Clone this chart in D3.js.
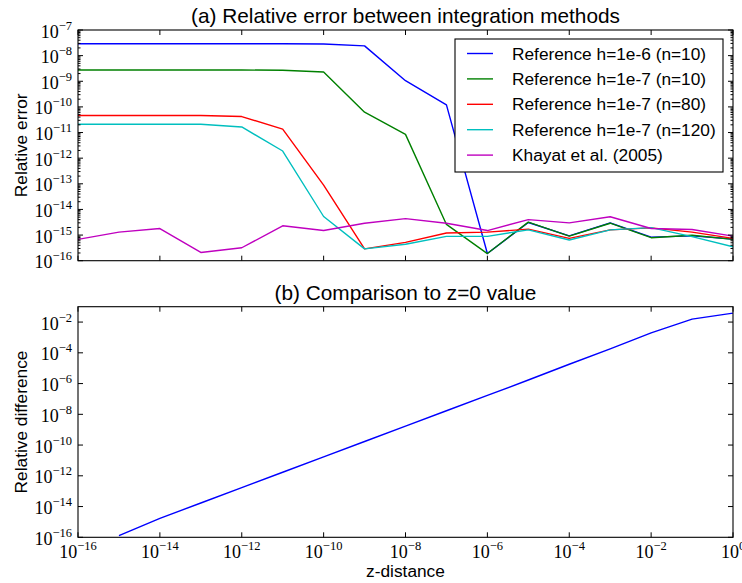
<!DOCTYPE html>
<html><head><meta charset="utf-8">
<script src="https://cdn.jsdelivr.net/npm/d3@7"></script>
<style>body{margin:0;background:#fff}svg{display:block}</style>
</head><body>
<svg id="c" width="742" height="583"></svg>
<script>
// ---- data ----
const zExp = [-16,-15,-14,-13,-12,-11,-10,-9,-8,-7,-6,-5,-4,-3,-2,-1,0];
const seriesNames = ["Reference h=1e-6 (n=10)","Reference h=1e-7 (n=10)","Reference h=1e-7 (n=80)","Reference h=1e-7 (n=120)","Khayat et al. (2005)"];
const seriesColors = ["#0000ff","#008000","#ff0000","#00bfbf","#bf00bf"];
const blueVals = [2.9e-8,2.9e-8,2.9e-8,2.9e-8,2.9e-8,2.9e-8,2.85e-8,2.4e-8,1.05e-9,1.2e-10,1.9e-16,3.1e-15,9.3e-16,3.0e-15,8.3e-16,9.3e-16,7.0e-16];
const greenVals = [2.75e-9,2.75e-9,2.75e-9,2.75e-9,2.75e-9,2.7e-9,2.3e-9,6.2e-11,8.5e-12,2.6e-15,1.9e-16,3.2e-15,9.1e-16,2.9e-15,7.9e-16,9.8e-16,6.8e-16];
const redVals = [4.6e-11,4.6e-11,4.6e-11,4.6e-11,4.2e-11,1.35e-11,8.9e-14,2.9e-16,5.2e-16,1.2e-15,1.3e-15,1.7e-15,7.4e-16,1.6e-15,1.9e-15,1.3e-15,7.4e-16];
const cyanVals = [2.1e-11,2.1e-11,2.1e-11,2.1e-11,1.65e-11,1.9e-12,5.3e-15,2.9e-16,4.4e-16,8.9e-16,8.9e-16,1.6e-15,6.4e-16,1.6e-15,1.95e-15,8.7e-16,3.5e-16];
const magentaVals = [6.8e-16,1.3e-15,1.8e-15,2.1e-16,3.2e-16,2.3e-15,1.5e-15,2.9e-15,4.4e-15,2.9e-15,1.5e-15,4.0e-15,3.0e-15,5.2e-15,1.8e-15,1.65e-15,9.1e-16];
const diffExp = [-15,-14,-13,-12,-11,-10,-9,-8,-7,-6,-5,-4,-3,-2,-1,0];
const diffVals = [1.3e-16,1.7e-15,1.7e-14,1.7e-13,1.7e-12,1.7e-11,1.7e-10,1.7e-9,1.7e-8,1.7e-7,1.7e-6,1.8e-5,1.8e-4,2.0e-3,1.55e-2,3.8e-2];
const topYTicks = [-16,-15,-14,-13,-12,-11,-10,-9,-8,-7];
const botYTicks = [-16,-14,-12,-10,-8,-6,-4,-2];
const xTicks = [-16,-14,-12,-10,-8,-6,-4,-2,0];

const svg = d3.select("#c");
const L = 78, R = 733;
const top1 = 30, bot1 = 260.7, top2 = 306.7, bot2 = 537.3;
const x = d3.scaleLog().domain([1e-16,1]).range([L,R]);
const y1 = d3.scaleLog().domain([1e-16,1e-7]).range([bot1,top1]);
const y2 = d3.scaleLog().domain([1e-16,1e-1]).range([bot2,top2]);
const serif = "'Liberation Serif', 'DejaVu Serif', serif";
const sans = "'Liberation Sans', Arial, sans-serif";

const defs = svg.append("defs");
defs.append("clipPath").attr("id","cp1").append("rect").attr("x",L).attr("y",top1).attr("width",R-L).attr("height",bot1-top1);
defs.append("clipPath").attr("id","cp2").append("rect").attr("x",L).attr("y",top2).attr("width",R-L).attr("height",bot2-top2);

function pow10Label(g, xpos, ypos, e, anchor){
  const t = g.append("text").attr("x",xpos).attr("y",ypos).attr("text-anchor",anchor)
    .attr("font-family",serif).attr("fill","#000");
  t.append("tspan").attr("font-size","18px").text("10");
  t.append("tspan").attr("font-size","12.5px").attr("dy",-8).text(e===0?"0":"\u2212"+(-e));
}

function ticksAndFrame(yScale, top, bot, yMajors, minor, showX){
  const g = svg.append("g");
  xTicks.forEach(e=>{
    const xv = x(Math.pow(10,e));
    g.append("line").attr("x1",xv).attr("x2",xv).attr("y1",bot).attr("y2",bot-5).attr("stroke","#000");
    g.append("line").attr("x1",xv).attr("x2",xv).attr("y1",top).attr("y2",top+5).attr("stroke","#000");
    if(showX) pow10Label(g, xv, bot+21, e, "middle");
  });
  yMajors.forEach(e=>{
    const yv = yScale(Math.pow(10,e));
    g.append("line").attr("x1",L).attr("x2",L+5).attr("y1",yv).attr("y2",yv).attr("stroke","#000");
    g.append("line").attr("x1",R).attr("x2",R-5).attr("y1",yv).attr("y2",yv).attr("stroke","#000");
    pow10Label(g, L-6, yv+7.5, e, "end");
    if(minor && e < -7){
      for(let k=2;k<10;k++){
        const ym = yScale(k*Math.pow(10,e));
        g.append("line").attr("x1",L).attr("x2",L+2.5).attr("y1",ym).attr("y2",ym).attr("stroke","#000");
        g.append("line").attr("x1",R).attr("x2",R-2.5).attr("y1",ym).attr("y2",ym).attr("stroke","#000");
      }
    }
  });
  g.append("rect").attr("x",L).attr("y",top).attr("width",R-L).attr("height",bot-top)
    .attr("fill","none").attr("stroke","#000").attr("stroke-width",1.1);
}

// top panel lines
const allSeries = [blueVals,greenVals,redVals,cyanVals,magentaVals];
const line1 = d3.line().x((d,i)=>x(Math.pow(10,zExp[i]))).y(d=>y1(d));
const gl1 = svg.append("g").attr("clip-path","url(#cp1)");
allSeries.forEach((s,i)=>{
  gl1.append("path").datum(s).attr("d",line1).attr("fill","none")
    .attr("stroke",seriesColors[i]).attr("stroke-width",1.4).attr("stroke-linejoin","round");
});
ticksAndFrame(y1, top1, bot1, topYTicks, true, false);

// legend
const lg = svg.append("g");
const lx = 455, ly = 39, lw = 268, lh = 133;
lg.append("rect").attr("x",lx).attr("y",ly).attr("width",lw).attr("height",lh)
  .attr("fill","#fff").attr("stroke","#000").attr("stroke-width",1.1);
seriesNames.forEach((n,i)=>{
  const yy = 53.5 + i*25.4;
  lg.append("line").attr("x1",467).attr("x2",493).attr("y1",yy).attr("y2",yy)
    .attr("stroke",seriesColors[i]).attr("stroke-width",1.4);
  lg.append("text").attr("x",512).attr("y",yy+6).attr("font-family",sans).attr("font-size","17.3px")
    .attr("fill","#000").text(n);
});

// bottom panel
const line2 = d3.line().x((d,i)=>x(Math.pow(10,diffExp[i]))).y(d=>y2(d));
svg.append("g").attr("clip-path","url(#cp2)").append("path").datum(diffVals).attr("d",line2)
  .attr("fill","none").attr("stroke","#0000ff").attr("stroke-width",1.4);
ticksAndFrame(y2, top2, bot2, botYTicks, false, true);

// titles and labels
svg.append("text").attr("x",(L+R)/2).attr("y",23).attr("text-anchor","middle")
  .attr("font-family",sans).attr("font-size","20.8px").text("(a) Relative error between integration methods");
svg.append("text").attr("x",(L+R)/2).attr("y",300).attr("text-anchor","middle")
  .attr("font-family",sans).attr("font-size","20.8px").text("(b) Comparison to z=0 value");
svg.append("text").attr("transform","translate(27,"+((top1+bot1)/2)+") rotate(-90)").attr("text-anchor","middle")
  .attr("font-family",sans).attr("font-size","17.3px").text("Relative error");
svg.append("text").attr("transform","translate(27,"+((top2+bot2)/2)+") rotate(-90)").attr("text-anchor","middle")
  .attr("font-family",sans).attr("font-size","17.3px").text("Relative difference");
svg.append("text").attr("x",(L+R)/2).attr("y",577).attr("text-anchor","middle")
  .attr("font-family",sans).attr("font-size","17.3px").text("z-distance");
</script>
</body></html>
